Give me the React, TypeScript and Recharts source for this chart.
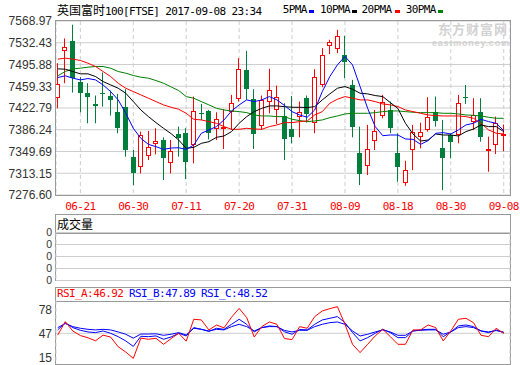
import React from "react";
import {
  Bar,
  CartesianGrid,
  ComposedChart,
  Line,
  ReferenceLine,
  XAxis,
  YAxis,
} from "recharts";

// 交易日（08-28 英国假日休市）
const dates = [
  "06-16", "06-19", "06-20", "06-21", "06-22", "06-23", "06-26", "06-27", "06-28", "06-29",
  "06-30", "07-03", "07-04", "07-05", "07-06", "07-07", "07-10", "07-11", "07-12", "07-13",
  "07-14", "07-17", "07-18", "07-19", "07-20", "07-21", "07-24", "07-25", "07-26", "07-27",
  "07-28", "07-31", "08-01", "08-02", "08-03", "08-04", "08-07", "08-08", "08-09", "08-10",
  "08-11", "08-14", "08-15", "08-16", "08-17", "08-18", "08-21", "08-22", "08-23", "08-24",
  "08-25", "08-29", "08-30", "08-31", "09-01", "09-04", "09-05", "09-06", "09-07", "09-08",
];
const tickDates = ["06-21", "06-30", "07-11", "07-20", "07-31", "08-09", "08-18", "08-30", "09-08"];

const opens = [
  7442, 7520.6, 7534.6, 7467.2, 7448.7, 7430.2, 7448.7, 7443.7, 7416.7, 7425.1,
  7341, 7325.8, 7343.8, 7363.4, 7369, 7331.4, 7379.1, 7381.4, 7361.7, 7414.2,
  7417.8, 7389.8, 7388.7, 7417.8, 7440.3, 7486.9, 7438.1, 7394.3, 7434.7, 7420.7,
  7409.4, 7387.5, 7409.4, 7439.2, 7399.9, 7462.8, 7527.9, 7523.4, 7512.2, 7461.6,
  7347.7, 7326.9, 7369, 7411.1, 7419.5, 7347.7, 7297.7, 7353.3, 7375.8, 7387,
  7415.6, 7356.1, 7377.4, 7378.6, 7442, 7401.6, 7416.7, 7352.2, 7362.3, 7378,
];
const highs = [
  7498, 7539.7, 7562.7, 7474.5, 7464.4, 7443.7, 7482.4, 7452.1, 7446.5, 7454.3,
  7352.2, 7383.1, 7384.2, 7388.7, 7373.5, 7369, 7391.5, 7388.7, 7442, 7429.6,
  7419.5, 7415.6, 7420.7, 7444.8, 7506.5, 7518.9, 7454.3, 7443.7, 7488.6, 7460.5,
  7430.8, 7443.1, 7433.6, 7443.7, 7488, 7523.4, 7537.4, 7554.2, 7544.1, 7470.1,
  7391.5, 7394.3, 7419.5, 7444.8, 7433.6, 7380.3, 7334.2, 7394.3, 7398.2, 7440.9,
  7442, 7402.7, 7380.3, 7444.8, 7461.6, 7439.2, 7439.2, 7374.6, 7408.3, 7395,
];
const lows = [
  7422.3, 7464.4, 7448.7, 7415.6, 7397.1, 7397.1, 7425.1, 7410, 7380.3, 7341,
  7293.2, 7312.9, 7335.3, 7344.9, 7301.7, 7312.9, 7341, 7303.3, 7329.7, 7402.7,
  7370.1, 7369, 7353.9, 7385.9, 7433.6, 7436.4, 7353.9, 7385.9, 7413.9, 7396,
  7335.3, 7363.4, 7373.5, 7398.2, 7380.3, 7457.7, 7513.3, 7515, 7472.9, 7373.5,
  7293.2, 7310.1, 7352.2, 7405.5, 7380.3, 7298.9, 7292.1, 7318.5, 7355, 7383.1,
  7391.5, 7284.8, 7338.1, 7363.4, 7429.6, 7385.9, 7366.2, 7315.7, 7345.4, 7350,
];
const closes = [
  7463.4, 7524.5, 7474, 7448.7, 7440.9, 7425.7, 7447, 7435.8, 7388.7, 7352.2,
  7312.9, 7377.4, 7357.8, 7367.3, 7338.1, 7350.5, 7371.8, 7331.4, 7417.8, 7413.6,
  7380.3, 7404.4, 7391.5, 7431.9, 7488.6, 7454.3, 7379.1, 7436.4, 7453.2, 7442,
  7370.1, 7373.5, 7415.6, 7412.8, 7474.5, 7512.2, 7532.9, 7544.1, 7499.8, 7391.5,
  7311.2, 7353.9, 7384.7, 7432.4, 7388.7, 7324.1, 7318.5, 7381.9, 7382.5, 7408.3,
  7401, 7338.1, 7366.2, 7430.8, 7439.7, 7411.1, 7373.5, 7353.3, 7397.1, 7379,
];
// 指数无成交量，副图全为 0
const volumes = [
  0, 0, 0, 0, 0, 0, 0, 0, 0, 0,
  0, 0, 0, 0, 0, 0, 0, 0, 0, 0,
  0, 0, 0, 0, 0, 0, 0, 0, 0, 0,
  0, 0, 0, 0, 0, 0, 0, 0, 0, 0,
  0, 0, 0, 0, 0, 0, 0, 0, 0, 0,
  0, 0, 0, 0, 0, 0, 0, 0, 0, 0,
];

const ma5 = [
  7474, 7476.8, 7472.9, 7470, 7472.3, 7470, 7461.6, 7450.4, 7436.4, 7414,
  7388.7, 7371.8, 7361.7, 7357.8, 7353.3, 7355.5, 7356, 7353.3, 7360.6, 7380.3,
  7385.9, 7391.5, 7402.7, 7417.8, 7428, 7436.4, 7433.6, 7436.4, 7442, 7436.4,
  7427, 7416.7, 7411.1, 7407.2, 7419.5, 7450.4, 7475.7, 7495.3, 7509.3, 7495.3,
  7458.8, 7422.3, 7391.5, 7376.3, 7377.4, 7377.4, 7370.7, 7370.1, 7361.7, 7367.9,
  7380.3, 7381.4, 7379.1, 7385.9, 7394.3, 7397.1, 7403.8, 7399.9, 7397.1, 7384.7,
];
const ma10 = [
  7488.6, 7488, 7484.1, 7480.2, 7480.2, 7475.7, 7467.2, 7461.6, 7456, 7447.6,
  7433.6, 7419.5, 7408.3, 7398.2, 7388.7, 7379.7, 7369, 7355, 7356.7, 7363.4,
  7366.2, 7373.5, 7375.8, 7383.1, 7397.1, 7408.3, 7416.7, 7422.3, 7426.3, 7426.3,
  7425, 7424, 7424, 7423.5, 7425.1, 7436.4, 7446.5, 7456, 7458.8, 7454.3,
  7447.6, 7446.5, 7443.7, 7442, 7431.9, 7422, 7397.1, 7379.1, 7367.3, 7369,
  7379.1, 7377.4, 7377.4, 7375.8, 7383.1, 7387.5, 7394.3, 7391.5, 7391.5, 7383.1,
];
const ma20 = [
  7504.9, 7506.5, 7504.9, 7502.6, 7498.1, 7492.5, 7484.1, 7475.7, 7464.4, 7456,
  7450.4, 7444.8, 7439.2, 7433.6, 7428, 7424, 7420.7, 7413.9, 7403.8, 7402.7,
  7399.9, 7397.1, 7391.5, 7387, 7387, 7388.7, 7387.5, 7387, 7391.5, 7394.3,
  7398.2, 7398.2, 7399.9, 7401, 7411.1, 7416.7, 7430.8, 7437.5, 7442, 7439.2,
  7436.4, 7436.4, 7433.6, 7429.6, 7428, 7425.1, 7419.5, 7416.7, 7413.9, 7411.1,
  7410, 7409.4, 7409.4, 7409.4, 7408.3, 7405.5, 7397.1, 7385.9, 7380.3, 7379.1,
];
const ma30 = [
  7476.8, 7484.1, 7488.6, 7489.7, 7491.4, 7492.5, 7492.5, 7489.7, 7484.1, 7481.3,
  7477.4, 7474.5, 7472.9, 7468.9, 7464.4, 7458.2, 7452.1, 7442, 7439.2, 7433.6,
  7428, 7422.3, 7419.5, 7417.8, 7416.7, 7415, 7411.1, 7409.4, 7409.4, 7408.3,
  7408.3, 7403.8, 7401.6, 7399.9, 7401, 7402.7, 7406.6, 7409.4, 7412.8, 7413.9,
  7413.9, 7413.9, 7415, 7416.7, 7417.8, 7417.8, 7416.7, 7415.6, 7415, 7415,
  7415, 7413.9, 7413.9, 7412.8, 7411.1, 7410.5, 7409.4, 7407.2, 7405.5, 7405.5,
];

const rsiA = [
  44.5, 62.6, 50, 44, 41, 37, 44.5, 42, 29, 22,
  13.5, 40.5, 39, 40.3, 32.3, 39.9, 47, 36.5, 65.7, 64.8,
  51.5, 58, 54.3, 68.5, 80.2, 67.9, 42, 56, 62.1, 59,
  40, 38.5, 55.9, 53.7, 69.3, 76.8, 79.9, 82.6, 59, 32.3,
  21.2, 32.3, 43.4, 52.3, 42.5, 32.3, 32.3, 51.5, 51.5, 58.1,
  54.6, 36.8, 50.1, 65.7, 67, 61.2, 44.3, 42.5, 53.7, 46.92,
];
const rsiB = [
  51.5, 61, 54.6, 51, 48.8, 47.9, 50.1, 47, 42.5, 36.8,
  29.5, 43, 42.5, 43.5, 39, 42.1, 47, 43.4, 54.6, 52.3,
  49.5, 53.7, 52.3, 59, 65.7, 59, 48.8, 54.6, 56.8, 55.9,
  49, 45.7, 52, 51.5, 59, 64.8, 67, 69.3, 61.2, 47.9,
  36.8, 41.2, 47, 52.3, 47.9, 41.2, 41.2, 50.1, 51.5, 52.3,
  52.3, 42.5, 48.8, 56.8, 58.1, 55.9, 50.1, 47.9, 51.5, 47.89,
];
const rsiC = [
  54.5, 60, 55.9, 53.7, 52.3, 51.5, 52.3, 51.5, 48.8, 45.7,
  40.5, 46, 46, 46.3, 44.3, 45.7, 47.9, 44.8, 53.7, 52.3,
  50, 52.3, 51.5, 55.9, 59, 55.9, 50.1, 54.6, 55.9, 55.9,
  50.8, 48.8, 51, 51, 55.9, 59, 61.2, 62.1, 59, 50.1,
  43.4, 45.7, 48.8, 51.5, 48.8, 44.3, 44.3, 50.1, 51, 51.5,
  51.5, 45.7, 48.8, 54.6, 55.9, 54.6, 50.1, 48.8, 50.6, 48.52,
];

const priceTicks = [7276.6, 7313.15, 7349.69, 7386.24, 7422.79, 7459.33, 7495.88, 7532.43, 7568.97];
const rsiTicks = [15, 47, 78];
const volumeTickLabels = ["0", "0", "0", "0", "0"];

const rows = dates.map((d, i) => ({
  i,
  date: d,
  open: opens[i],
  high: highs[i],
  low: lows[i],
  close: closes[i],
  vol: volumes[i],
  ma5: ma5[i],
  ma10: ma10[i],
  ma20: ma20[i],
  ma30: ma30[i],
  rsiA: rsiA[i],
  rsiB: rsiB[i],
  rsiC: rsiC[i],
}));

const tickIdx = tickDates.map((d) => dates.indexOf(d));
const xDomain = [-0.225, 59.83];

const RED = "#ff0000";
const GREEN = "#007f3c";
const BLUE = "#0000ff";
const GRID = "#cdcdcd";
const FRAME = "#999";
const mono = "'DejaVu Sans Mono', monospace";
const cjk = "'Noto Sans CJK SC', sans-serif";
const sans = "'Liberation Sans', Arial, sans-serif";

function Candle(props: any) {
  const { x, y, width, height, payload } = props;
  if (!payload || x == null || y == null) return null;
  const top = Math.min(y, y + height);
  const h = Math.abs(height);
  const k = h / (payload.high - payload.low || 1);
  const yOf = (v: number) => top + (payload.high - v) * k;
  const cx = Math.floor(x + width / 2);
  const up = payload.close >= payload.open;
  const color = up ? RED : GREEN;
  const bTop = Math.round(yOf(Math.max(payload.open, payload.close)));
  const bBot = Math.round(yOf(Math.min(payload.open, payload.close)));
  let body;
  if (bBot - bTop < 1) {
    body = <line x1={cx - 2} x2={cx + 3} y1={bTop + 0.5} y2={bTop + 0.5} stroke={color} />;
  } else if (up) {
    body = <rect x={cx - 1.5} y={bTop + 0.5} width={4} height={bBot - bTop} fill="#fff" stroke={color} />;
  } else {
    body = <rect x={cx - 2} y={bTop} width={5} height={bBot - bTop} fill={color} />;
  }
  return (
    <g>
      <line x1={cx + 0.5} x2={cx + 0.5} y1={top} y2={top + h} stroke={color} />
      {body}
    </g>
  );
}

const xAxisBase = {
  dataKey: "i",
  type: "number" as const,
  domain: xDomain,
  allowDataOverflow: true,
  ticks: tickIdx,
  interval: 0 as const,
  axisLine: false,
  tickLine: false,
};

const abs = (left: number, top: number, extra: React.CSSProperties = {}): React.CSSProperties => ({
  position: "absolute",
  left,
  top,
  whiteSpace: "nowrap",
  ...extra,
});

const monoText = (color: string, lh: number): React.CSSProperties => ({
  fontFamily: mono,
  fontSize: 11,
  letterSpacing: "-0.6px",
  lineHeight: `${lh}px`,
  color,
});

export default function App() {
  const legend = [
    { label: "5PMA", tx: 282.7, dx: 309, color: BLUE },
    { label: "10PMA", tx: 320, dx: 351.7, color: "#000" },
    { label: "20PMA", tx: 361.5, dx: 394.5, color: RED },
    { label: "30PMA", tx: 405.7, dx: 438.3, color: "#008000" },
  ];

  return (
    <div style={{ position: "absolute", left: 0, top: 0, width: 520, height: 365, background: "#fff", overflow: "hidden" }}>
      {/* 标题与均线图例 */}
      <div style={abs(57, 3, monoText("#000", 14))}>
        <span style={{ fontFamily: cjk, fontSize: 12, letterSpacing: 0 }}>英国富时</span>100[FTSE] 2017-09-08 23:34
      </div>
      {legend.map((l) => (
        <React.Fragment key={l.label}>
          <div style={abs(l.tx, 3, monoText("#000", 14))}>{l.label}</div>
          <div style={abs(l.dx, 10, { width: 5, height: 3, background: l.color })} />
        </React.Fragment>
      ))}

      {/* 主图：K线 + 均线 */}
      <div style={abs(0, 0)}>
        <ComposedChart width={520} height={215} data={rows} margin={{ top: 21, right: 10, bottom: 0, left: 0 }}>
          <CartesianGrid vertical={false} stroke={GRID} />
          <CartesianGrid horizontal={false} stroke={GRID} strokeDasharray="4 3" />
          <XAxis
            {...xAxisBase}
            height={20}
            tickSize={5}
            tickMargin={2}
            tickFormatter={(i: number) => dates[i]}
            tick={{ fill: RED, fontSize: 11, fontFamily: mono, letterSpacing: -0.6 }}
          />
          <YAxis
            type="number"
            domain={[7276.6, 7568.97]}
            allowDataOverflow
            ticks={priceTicks}
            interval={0}
            width={56}
            axisLine={false}
            tickLine={false}
            tickSize={2}
            tickMargin={2}
            tickFormatter={(v: number) => v.toFixed(2)}
            tick={{ fill: "#333", fontSize: 12, fontFamily: sans }}
          />
          <Bar dataKey={(d: any) => [d.low, d.high]} barSize={5} shape={Candle} isAnimationActive={false} />
          <Line dataKey="ma30" stroke="#008000" strokeWidth={1} dot={false} isAnimationActive={false} />
          <Line dataKey="ma20" stroke={RED} strokeWidth={1} dot={false} isAnimationActive={false} />
          <Line dataKey="ma10" stroke="#000" strokeWidth={1} dot={false} isAnimationActive={false} />
          <Line dataKey="ma5" stroke={BLUE} strokeWidth={1} dot={false} isAnimationActive={false} />
        </ComposedChart>
      </div>
      <div style={abs(55, 20, { width: 456, height: 176, border: `1px solid ${FRAME}`, boxSizing: "border-box" })} />
      <div style={abs(438, 21.5, { fontFamily: cjk, fontSize: 13, fontWeight: 700, color: "#d2d2d2", lineHeight: "13px", letterSpacing: "1px" })}>
        东方财富网
      </div>
      <div style={abs(432, 39.5, { fontFamily: sans, fontSize: 9, fontWeight: 700, color: "#d2d2d2", lineHeight: "7px", letterSpacing: "0.8px" })}>
        eastmoney.com
      </div>

      {/* 成交量 */}
      <div style={abs(55, 214, { width: 456, height: 67, border: `1px solid ${FRAME}`, boxSizing: "border-box" })}>
        <div style={{ height: 18, borderBottom: `1px solid ${FRAME}`, boxSizing: "content-box" }} />
      </div>
      <div style={abs(57, 216, { fontFamily: cjk, fontSize: 12, lineHeight: "15px", color: "#000" })}>成交量</div>
      <div style={abs(0, 226)}>
        <ComposedChart width={520} height={61} data={rows} margin={{ top: 6.5, right: 10, bottom: 6.5, left: 0 }}>
          <CartesianGrid vertical={false} stroke={GRID} />
          <CartesianGrid horizontal={false} stroke={GRID} strokeDasharray="4 3" />
          <XAxis {...xAxisBase} height={0} tick={false} />
          <YAxis
            type="number"
            domain={[0, volumeTickLabels.length - 1]}
            allowDataOverflow
            ticks={volumeTickLabels.map((_, k) => k)}
            interval={0}
            width={56}
            axisLine={false}
            tickLine={false}
            tickSize={2}
            tickMargin={2}
            tickFormatter={(k: number) => volumeTickLabels[k]}
            tick={{ fill: "#333", fontSize: 10.5, fontFamily: sans }}
          />
          <Bar dataKey="vol" barSize={5} fill={GREEN} isAnimationActive={false} />
        </ComposedChart>
      </div>

      {/* RSI */}
      <div style={abs(55, 287, { width: 456, height: 78, border: `1px solid ${FRAME}`, boxSizing: "border-box" })}>
        <div style={{ height: 13, borderBottom: `1px solid ${FRAME}`, boxSizing: "content-box" }} />
      </div>
      <div style={abs(57, 287, monoText(RED, 13))}>RSI_A:46.92</div>
      <div style={abs(129, 287, monoText(BLUE, 13))}>RSI_B:47.89</div>
      <div style={abs(201, 287, monoText(BLUE, 13))}>RSI_C:48.52</div>
      <div style={abs(0, 294)}>
        <ComposedChart width={520} height={70} data={rows} margin={{ top: 6.7, right: 10, bottom: 0, left: 0 }}>
          <CartesianGrid horizontal={false} stroke={GRID} strokeDasharray="4 3" />
          <XAxis {...xAxisBase} height={0} tick={false} />
          <YAxis
            type="number"
            domain={[6, 90.5]}
            allowDataOverflow
            ticks={rsiTicks}
            interval={0}
            width={56}
            axisLine={false}
            tickLine={false}
            tickSize={2}
            tickMargin={2}
            tick={{ fill: "#333", fontSize: 12, fontFamily: sans }}
          />
          <ReferenceLine y={47} stroke={GRID} />
          <Line dataKey="rsiC" stroke={BLUE} strokeWidth={1} dot={false} isAnimationActive={false} />
          <Line dataKey="rsiB" stroke={BLUE} strokeWidth={1} dot={false} isAnimationActive={false} />
          <Line dataKey="rsiA" stroke={RED} strokeWidth={1} dot={false} isAnimationActive={false} />
        </ComposedChart>
      </div>
    </div>
  );
}
